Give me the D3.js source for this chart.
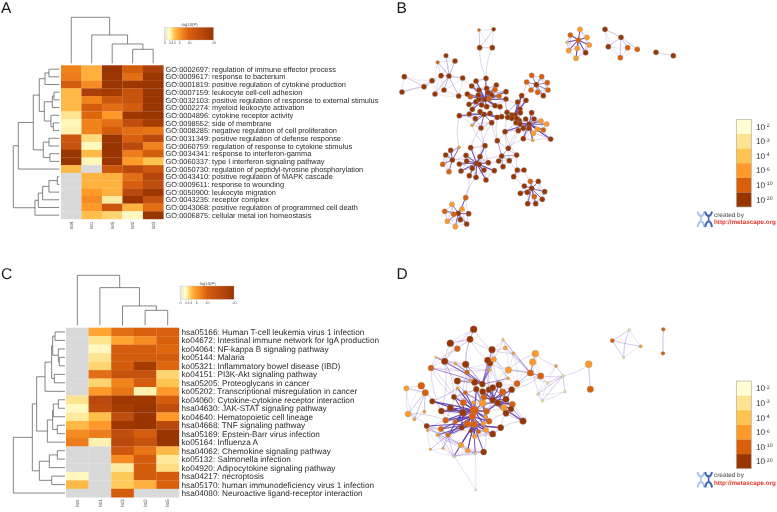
<!DOCTYPE html>
<html><head><meta charset="utf-8">
<script src="https://cdn.jsdelivr.net/npm/d3@7"></script>
<style>html,body{margin:0;padding:0;background:#fff}svg{display:block}text{font-family:"Liberation Sans",Arial,sans-serif;text-rendering:geometricPrecision}</style>
</head><body><svg id="c" width="777" height="512"></svg>
<script>
// ---------- heatmap data ----------
const aLabels=["GO:0002697: regulation of immune effector process","GO:0009617: response to bacterium","GO:0001819: positive regulation of cytokine production","GO:0007159: leukocyte cell-cell adhesion","GO:0032103: positive regulation of response to external stimulus","GO:0002274: myeloid leukocyte activation","GO:0004896: cytokine receptor activity","GO:0098552: side of membrane","GO:0008285: negative regulation of cell proliferation","GO:0031349: positive regulation of defense response","GO:0060759: regulation of response to cytokine stimulus","GO:0034341: response to interferon-gamma","GO:0060337: type I interferon signaling pathway","GO:0050730: regulation of peptidyl-tyrosine phosphorylation","GO:0043410: positive regulation of MAPK cascade","GO:0009611: response to wounding","GO:0050900: leukocyte migration","GO:0043235: receptor complex","GO:0043068: positive regulation of programmed cell death","GO:0006875: cellular metal ion homeostasis"];
const aColumns=["lst4","lst1","lst5","lst2","lst3"];
const aValues=[
[7.5,5,20,11,17],[8,5,20,9,20],[11,7,20,19,20],[4.5,17,18,13,20],[4.5,7.5,12,13,20],
[4.5,11,9,11,20],[3,9.5,6,19,20],[2.3,7.5,9,14,18],[2.5,7.5,11,9,8.5],[12,3.3,20,10,15],
[13,2.2,20,15,7.5],[20,4.5,20,8,11],[20,2.3,20,6,4],[4.5,null,12,15,12],[null,4.8,5,9,16],
[null,4.8,4.8,10,14],[null,6,5,15,19],[null,7,2.7,20,13],[null,6,12,4.8,9],[null,4.3,3.5,2.2,20]];
const aRowTree=[138,[123,[78,[60,[43,[31,0,1],2],[45,[21,[16,3,4],5],[25,6,[18,7,8]]]],[48,[31,9,10],[28,11,12]]],13],[73,[63,[50,[31,[6,14,15],16],17],18],19]];
const aColTree=[138,0,[85,1,[58,2,[42,3,4]]]];

const cLabels=["hsa05166: Human T-cell leukemia virus 1 infection","ko04672: Intestinal immune network for IgA production","ko04064: NF-kappa B signaling pathway","ko05144: Malaria","ko05321: Inflammatory bowel disease (IBD)","ko04151: PI3K-Akt signaling pathway","hsa05205: Proteoglycans in cancer","ko05202: Transcriptional misregulation in cancer","ko04060: Cytokine-cytokine receptor interaction","hsa04630: JAK-STAT signaling pathway","ko04640: Hematopoietic cell lineage","hsa04668: TNF signaling pathway","hsa05169: Epstein-Barr virus infection","ko05164: Influenza A","hsa04062: Chemokine signaling pathway","ko05132: Salmonella infection","ko04920: Adipocytokine signaling pathway","hsa04217: necroptosis","hsa05170: human immunodeficiency virus 1 infection","hsa04080: Neuroactive ligand-receptor interaction"];
const cColumns=["lst4","lst1","lst3","lst2","lst5"];
const cValues=[
[null,5.5,9,10,10],[null,3,5.5,7,10],[null,2.2,11,11,9.5],[null,3,11,11,11],[null,3.5,11,18,9.5],
[null,9,13,13,3.5],[null,3.5,7.5,11,4],[null,6,8.5,2.5,6],[3,15,19,19,11],[2.2,14,18,20,14],
[2.8,4.2,14,20,6],[4.5,6,19,20,15],[7,8,14,11,20],[8,2.5,15,13,20],[null,null,12,8.5,4.5],
[null,null,7,11,2.8],[null,null,2.7,11,3.2],[2.2,null,3.8,11,11],[4.5,null,3.8,5,10],[null,null,11,null,null]];
const cRowTree=[155,[98,[85,[60,[40,[37,[30,0,1],[20,2,[17,3,4]]],[32,5,6]],7],[53,[37,[35,[20,8,9],10],[23,11,12]],13]],[77,[47,[23,14,15],16],[40,17,18]]],19];
const cColTree=[150,0,[113,1,[58,2,[45,3,4]]]];

const gradStops=[0,2,3,4,6,10,20];
const gradColors=["#e4e4d8","#ffffcc","#fee391","#fec44f","#fe9929","#d95f0e","#993404"];
const gradTicks=[0,2,3,4,6,10,20];
const legendLevels=[2,3,4,6,10,20];
const legendColors=["#ffffd4","#fee391","#fec44f","#fe9929","#d95f0e","#993404"];

// ---------- network data: [x, y, -log10(P), size]; first node of a cluster is its hub ----------
const bClusters=[
[[595,120,10],[600,88,8],[621,112,8],[628,135,8],[617,158,15],[588,175,8],[592,145,8],[566,152,7],[560,127,5,.5],[571,105,11]],
[[723,112,15],[675,88,15],[685,140,15],[721,173,10],[743,143,10],[772,148,11]],
[[828,157,15],[880,167,15]],
[[299,143,15],[297,90,11,.6],[341,88,15,.8],[337,143,15]],
[[207,228,15],[198,167,15,.9],[225,183,15],[173,187,12,.7],[183,227,15],[165,282,15],[192,270,15],[236,288,15],[248,234,15]],
[[132,260,15],[73,230,15],[66,276,15],[156,242,15]],
[[315,298,20],[318,235,15],[288,243,15],[275,258,15],[297,270,15],[320,265,15],[349,255,15],[345,269,11],[325,278,15],[378,275,15],[357,288,10],[335,285,15],[328,296,12],[378,297,15],[345,317,15],[360,320,15],[320,320,15],[305,315,15],[288,305,15],[267,313,15],[277,328,15],[297,298,15],[295,285,15],[271,290,11],[262,282,15]],
[[312,343,20],[300,335,15],[330,340,15],[352,352,15],[365,350,15],[335,368,15],[303,384,15],[276,376,9,.6],[286,356,15],[238,347,15],[268,342,15]],
[[405,345,20],[381,337,15],[413,306,15],[425,287,15],[438,301,15],[420,327,15],[395,345,15],[421,338,15],[418,362,15],[410,355,15],[395,355,15],[383,352,15]],
[[469,254,15],[455,226,11],[485,230,11],[502,248,11],[504,270,11],[490,287,15],[473,277,11],[453,270,11],[440,246,11]],
[[447,372,20],[455,338,15],[462,357,15],[483,363,9],[500,372,8],[490,390,11],[472,388,8],[512,417,15],[460,400,8],[458,421,8,.6],[430,416,15],[447,385,15],[430,385,15],[415,392,15],[375,395,15],[408,368,15],[420,372,15],[437,357,15]],
[[290,490,20],[272,443,15],[315,437,15],[300,470,15],[325,488,15],[298,493,15],[343,512,15],[318,540,15],[312,510,15],[288,532,15],[268,527,15],[277,505,15],[243,513,15],[238,492,15],[260,483,15],[258,466,15]],
[[365,468,15],[352,422,15],[385,445,15],[410,465,15],[388,482,15],[369,500,15],[356,483,15]],
[[217,480,15],[212,451,15],[237,442,9,.6],[197,465,15],[188,493,11],[207,515,11]],
[[412,510,15],[432,510,15],[401,530,15]],
[[455,565,15],[451,544,11],[475,544,15],[494,575,15],[487,598,15],[467,611,15],[443,611,15],[463,590,11],[442,577,15],[421,580,15],[433,558,15]],
[[235,640,15],[257,593,10],[246,627,8],[266,641,15],[260,672,15],[241,659,15],[226,680,8],[202,664,9],[194,634,11],[216,613,8],[221,643,11]]
];
const bSpokes=[.9,.35,.25,.3,.4,.3,.9,.8,.95,.7,.9,.9,.55,.8,.8,.8,.8];
const bLinks=[
[3,0,6,1],[3,3,6,1],[4,8,6,3],[4,4,5,3],[4,7,6,24],[8,3,9,7],[8,2,9,8],[6,9,8,1],[6,13,8,1],[7,4,8,11],[7,3,8,11],[7,5,12,1],[7,6,11,2],[7,9,13,2],[10,14,12,2],[10,13,12,2],[8,8,10,15],[10,10,12,2],[10,14,12,3],[11,4,12,6],[11,4,13,0],[12,0,11,0],[13,0,11,15],[12,4,14,0],[12,3,14,0],[14,2,15,10],[14,1,15,1],[11,9,16,1],[16,1,11,10],[6,18,7,10],[6,15,7,4],[7,7,11,2],[7,6,11,1],[8,5,6,13],[8,11,10,14],[8,10,10,15],[12,1,10,14],[12,2,10,13],[7,5,11,3],[7,3,12,1],[5,0,4,4]
];
const dClusters=[
[[697,254,10,.8],[748,221,3,.45],[782,271,8,.6],[731,305,3,.45]],
[[850,220,10,.7],[849,292,10,.7]],
[[626,325,8,1.3],[631,400,10,1.2]],
[[549,360,3,.55],[528,330,7,.6],[503,381,3,.55],[473,415,3,.45],[487,435,3,.45],[555,407,3,.45]],
[[451,351,10,1.2],[466,293,7,1.25],[458,318,8,1.25],[482,360,10,1.2],[411,383,10,1.15],[385,342,9,1.2],[400,292,7,.55],[376,276,8,.8],[369,251,4,.5]],
[[283,463,11,1.6],[281,440,9,.8],[250,440,10,1.2],[222,423,14,1],[256,410,10,.8],[289,400,14,1.1],[308,442,8,1.3],[320,466,11,1.15],[316,483,7,.7],[310,503,8,.9],[327,496,10,1.1],[277,481,11,1.3],[262,503,11,1.25],[226,497,10,.9],[197,493,11,1.1],[184,465,14,1.15],[211,456,14,1.2],[249,470,14,1.3],[157,436,14,1.05],[233,397,8,.6]],
[[282,505,11,1.3],[296,527,10,.8],[318,522,9,1],[272,525,14,.7],[284,541,8,.9],[338,534,16,1.2],[362,515,15,1.15],[245,515,14,1],[204,537,10,.9],[183,519,11,1],[140,510,16,1],[243,567,8,1],[263,584,9,.9],[311,588,14,1.15],[286,593,3,.4],[222,601,3,.45],[172,537,8,.6]],
[[338,432,14,1.15],[312,423,11,1.15],[308,407,14,1.15],[327,401,14,1.1],[338,395,16,1.15],[357,386,16,1.2],[368,408,11,1.25],[395,401,16,1.15],[378,430,14,1.2],[353,441,14,1.2],[397,445,13,1.15],[393,459,14,1.1],[371,455,9,1.2],[378,472,16,1.15],[429,495,16,1.25]],
[[307,384,15,1.15],[284,379,16,1.2],[272,373,9,.6],[232,375,14,1.2],[261,349,11,.9],[257,325,16,1.25],[226,323,7,.55],[194,316,16,1.25],[168,304,4,.45],[153,336,11,1.1],[328,342,8,.6],[330,322,15,1.1],[323,313,16,1.2],[341,310,8,1],[336,281,15,1.25],[384,367,8,.6]],
[[270,250,16,1.2],[281,220,16,1.3],[211,262,16,1.3],[232,278,10,1.1]],
[[136,410,11,1.2],[124,389,10,1.3],[79,397,9,1],[84,474,9,1.1],[103,490,8,.6],[133,467,8,.6]],
[[204,537,10,.7],[143,523,7,.5],[151,580,6,.45],[189,577,6,.45],[222,601,3,.4]],
[[287,702,3,.4],[222,601,3,.4],[286,593,3,.4]]
];
const dSpokes=[.3,.35,.35,.3,.4,.95,.85,.9,.6,.35,.35,.3,.12];
const dLinks=[
[0,1,0,3],[3,0,2,0],[4,0,3,0],[4,0,3,2],[4,3,3,2],[4,1,3,1],[4,2,3,4],[4,1,4,5],[5,0,7,0],[5,0,8,0],[5,0,8,1],[5,0,7,1],[5,0,7,9],[5,0,6,0],[5,7,7,0],[5,0,7,12],[5,0,7,6],[5,6,7,4],[5,6,8,12],[5,6,8,14],[5,4,8,5],[5,3,8,7],[5,3,8,9],[5,16,8,3],[5,15,8,7],[5,18,10,0],[5,15,10,0],[5,14,10,3],[5,14,11,1],[6,9,11,1],[6,10,11,1],[6,10,10,3],[6,7,11,3],[7,7,4,4],[7,5,4,4],[7,5,4,5],[8,14,4,7],[8,14,4,6],[8,11,4,8],[8,14,4,8],[8,11,4,5],[9,0,8,5],[9,3,8,7],[9,2,8,7],[9,1,8,5],[9,0,8,12],[9,0,8,14],[7,7,4,3],[7,14,7,10],[6,11,6,14],[6,12,6,15],[9,1,8,14],[9,1,8,7],[9,3,8,9],[8,9,5,3],[8,9,5,15],[8,7,5,4],[8,3,5,4],[8,4,5,5],[8,4,5,2],[8,5,5,5],[8,10,7,3],[8,11,7,5],[8,13,7,5],[8,13,4,5],[8,15,4,4],[4,5,7,4],[4,4,7,6],[6,16,5,14],[6,16,6,11],[6,16,6,15],[6,8,6,11],[6,11,6,15],[6,13,6,2],[7,13,6,6],[7,13,5,10],[7,14,6,6]
];
// extra fan-outs around the dense core: [cluster, node, [[cluster, node], ...]]
const dFans=[
[5,11,[[6,1],[6,3],[6,4],[6,7],[6,8],[6,9],[5,13],[5,14],[5,10],[5,12],[6,2]]],
[5,17,[[5,16],[5,15],[5,13],[5,3],[5,2],[6,7],[6,8],[5,18]]],
[7,9,[[7,1],[7,2],[7,3],[7,6],[7,8],[7,10],[7,11],[7,12],[7,13],[5,6],[5,7]]],
[5,6,[[5,5],[5,4],[7,2],[7,3],[5,8],[5,10]]],
[7,8,[[7,4],[7,5],[7,6],[7,7],[7,14],[5,7]]],
[6,0,[[5,12],[5,9],[6,6],[6,12],[6,11]]]
];
const dFanWeights=[.95,.9,.9,.7,.6,.8];

// ---------- drawing ----------
const svg=d3.select("#c");
const defs=svg.append("defs");
const blur=defs.append("filter").attr("id","soft").attr("filterUnits","userSpaceOnUse").attr("x",0).attr("y",0).attr("width",777).attr("height",512);
blur.append("feGaussianBlur").attr("stdDeviation",.34);
const root=svg.append("g").attr("filter","url(#soft)");
root.append("rect").attr("width",777).attr("height",512).attr("fill","#fff");

const heat=d3.scaleLinear().domain(gradStops).range(gradColors).clamp(true);
const level=d3.scaleThreshold().domain([3,4,6,10,14]).range(legendColors);

function drawTree(g,tree,leafPos,dist,horizontal){
  function walk(n){
    if(typeof n==="number") return {c:leafPos(n),h:0};
    const a=walk(n[1]),b=walk(n[2]),d=dist(n[0]);
    const p=d3.path();
    if(horizontal){p.moveTo(dist(a.h),a.c);p.lineTo(d,a.c);p.lineTo(d,b.c);p.lineTo(dist(b.h),b.c);}
    else{p.moveTo(a.c,dist(a.h));p.lineTo(a.c,d);p.lineTo(b.c,d);p.lineTo(b.c,dist(b.h));}
    g.append("path").attr("d",p.toString()).attr("fill","none").attr("stroke","#666").attr("stroke-width",.8);
    return {c:(a.c+b.c)/2,h:n[0]};
  }
  walk(tree);
}

function heatmap(o){
  const g=root.append("g");
  const x=d3.scaleBand().domain(d3.range(5)).range([o.x0,o.x1]);
  const y=d3.scaleBand().domain(d3.range(20)).range([o.y0,o.y1]);
  o.values.forEach((row,r)=>row.forEach((v,c)=>{
    g.append("rect").attr("x",x(c)).attr("y",y(r)).attr("width",x.bandwidth()+.2).attr("height",y.bandwidth()+.2)
     .attr("fill",v==null?"#d9d9d9":heat(v));
  }));
  g.selectAll(".rl").data(o.labels).join("text").attr("x",o.labelX).attr("y",(d,i)=>y(i)+y.bandwidth()/2)
    .attr("dy","0.36em").attr("font-size",o.fs).attr("fill","#2a2a2a").text(d=>d);
  g.selectAll(".cl").data(o.columns).join("text")
    .attr("transform",(d,i)=>`translate(${x(i)+x.bandwidth()/2},${o.colLabelY}) rotate(-90)`)
    .attr("text-anchor","end").attr("dy","0.35em").attr("font-size",o.colFs).attr("fill","#555").text(d=>d);
  const rd=d3.scaleLinear().domain([0,1]).range([o.rowLeaf,o.rowLeaf-1/3]);
  drawTree(g,o.rowTree,i=>y(i)+y.bandwidth()/2,rd,true);
  const cd=d3.scaleLinear().domain([0,1]).range([o.colLeaf,o.colLeaf-1/3]);
  drawTree(g,o.colTree,i=>x(i)+x.bandwidth()/2,cd,false);
  const id="grad"+o.id;
  const lg=defs.append("linearGradient").attr("id",id);
  gradStops.forEach((s,i)=>lg.append("stop").attr("offset",s/20).attr("stop-color",gradColors[i]));
  const kx=d3.scaleLinear().domain([0,20]).range([o.kx0,o.kx1]);
  g.append("rect").attr("x",o.kx0).attr("y",o.ky0).attr("width",o.kx1-o.kx0).attr("height",o.ky1-o.ky0)
    .attr("fill",`url(#${id})`).attr("stroke","#bbb").attr("stroke-width",.3);
  g.append("text").attr("x",(o.kx0+o.kx1)/2).attr("y",o.ky0-1).attr("text-anchor","middle").attr("font-size",4.2).attr("fill","#555").text("-log10(P)");
  const ax=g.append("g").attr("transform",`translate(0,${o.ky1})`).call(d3.axisBottom(kx).tickValues(gradTicks).tickSize(1.2).tickPadding(.6).tickFormat(d3.format("d")));
  ax.select(".domain").remove();
  ax.selectAll("line").attr("stroke","#777").attr("stroke-width",.3);
  ax.selectAll("text").attr("font-size",3.6).attr("fill","#555");
}
heatmap({id:"a",x0:61,x1:163.4,y0:65.3,y1:219,values:aValues,labels:aLabels,columns:aColumns,labelX:165.6,fs:7.42,colLabelY:221.7,colFs:4.7,rowTree:aRowTree,colTree:aColTree,rowLeaf:59.3,colLeaf:63.3,kx0:164.5,kx1:213.5,ky0:27.3,ky1:40});
heatmap({id:"c",x0:66,x1:179,y0:327.7,y1:497.3,values:cValues,labels:cLabels,columns:cColumns,labelX:181.5,fs:8.2,colLabelY:499.3,colFs:4.9,rowTree:cRowTree,colTree:cColTree,rowLeaf:65,colLeaf:325.3,kx0:180,kx1:234,ky0:286,ky1:299.3});

function network(clusters,spokes,links,fans,fanW,y0,defR){
  const g=root.append("g");
  const nx=d3.scaleLinear().domain([0,1191]).range([380,777]);
  const ny=d3.scaleLinear().domain([0,768]).range([y0,y0+256]);
  const rs=d3.scaleLinear().domain([0,1]).range([0,defR]);
  const wS=d3.scaleLinear().domain([0,1]).range([.35,1.15]);
  const oS=d3.scaleLinear().domain([0,1]).range([.25,.95]);
  const curve=(a,b,bend)=>{
    const ax=nx(a[0]),ay=ny(a[1]),bx=nx(b[0]),by=ny(b[1]);
    const p=d3.path();p.moveTo(ax,ay);
    p.quadraticCurveTo((ax+bx)/2-(by-ay)*bend,(ay+by)/2+(bx-ax)*bend,bx,by);
    return p.toString();
  };
  const edge=(a,b,w,bend)=>g.append("path").attr("d",curve(a,b,bend)).attr("fill","none")
    .attr("stroke","#5a35a8").attr("stroke-width",wS(w)).attr("stroke-opacity",oS(w));
  links.forEach(l=>edge(clusters[l[0]][l[1]],clusters[l[2]][l[3]],.2,.12));
  clusters.forEach((c,ci)=>{
    for(let i=1;i<c.length-1;i++) edge(c[i],c[i+1],spokes[ci]*.35,.06);
    for(let i=1;i<c.length-2;i++) edge(c[i],c[i+2],spokes[ci]*.2,.1);
    for(let i=1;i<c.length;i++) edge(c[0],c[i],spokes[ci],.02);
  });
  fans.forEach((f,fi)=>f[2].forEach(t=>edge(clusters[f[0]][f[1]],clusters[t[0]][t[1]],fanW[fi],.03)));
  clusters.flat().forEach(n=>{
    g.append("circle").attr("cx",nx(n[0])).attr("cy",ny(n[1])).attr("r",rs(n[3]==null?1:n[3]))
     .attr("fill",level(n[2])).attr("stroke","#8f9a94").attr("stroke-width",.35);
  });
}
network(bClusters,bSpokes,bLinks,[],[],0,2.6);
network(dClusters,dSpokes,dLinks,dFans,dFanWeights,256,2.7);

function netLegend(y0,y1,oy){
  const g=root.append("g");
  const x0=736.3,x1=751.3;
  const b=d3.scaleBand().domain(legendLevels).range([y0,y1]);
  legendLevels.forEach((l,i)=>{
    g.append("rect").attr("x",x0).attr("y",b(l)).attr("width",x1-x0).attr("height",b.bandwidth())
      .attr("fill",legendColors[i]);
    const t=g.append("text").attr("x",756).attr("y",b(l)+b.bandwidth()/2+3).attr("font-size",8.2).attr("fill","#333");
    t.append("tspan").text("10");
    t.append("tspan").attr("dy",-2.6).attr("font-size",5.2).text("-"+l);
  });
  g.append("rect").attr("x",x0).attr("y",y0).attr("width",x1-x0).attr("height",y1-y0).attr("fill","none").attr("stroke","#b5b09a").attr("stroke-width",.7);
  const lg=g.append("g").attr("fill","none");
  const glyph=(x,col)=>{
    lg.append("path").attr("d",`M${x-.4},${oy-5}C${x+1},${oy+1} ${x+5},${oy+1} ${x+6.4},${oy-5}`).attr("stroke",col).attr("stroke-width",2);
    lg.append("path").attr("d",`M${x-.4},${oy+10.5}C${x+.8},${oy+3} ${x+5.2},${oy+3} ${x+6.4},${oy+10.5}`).attr("stroke",col).attr("stroke-width",2);
    lg.append("path").attr("d",`M${x+3},${oy-2}V${oy+5}`).attr("stroke",col).attr("stroke-width",1.6);
  };
  glyph(698,"#a9c4e8");glyph(705.6,"#3f68b5");
  g.append("text").attr("x",714).attr("y",oy).attr("font-size",6.4).attr("fill","#444").text("created by");
  g.append("text").attr("x",714).attr("y",oy+7.6).attr("font-size",6.3).attr("font-weight","bold").attr("fill","#e0392b").text("http://metascape.org");
}
netLegend(119.3,207,216.5);
netLegend(381,468.7,477);

const panels=["A","B","C","D"];
const panelX=[1,396.5,1,396.5],panelY=[12.8,12.8,279,279];
root.selectAll(".p").data(panels).join("text").attr("x",(d,i)=>panelX[i]).attr("y",(d,i)=>panelY[i]).attr("font-size",15.5).attr("fill","#1a1a1a").text(d=>d);
</script></body></html>
